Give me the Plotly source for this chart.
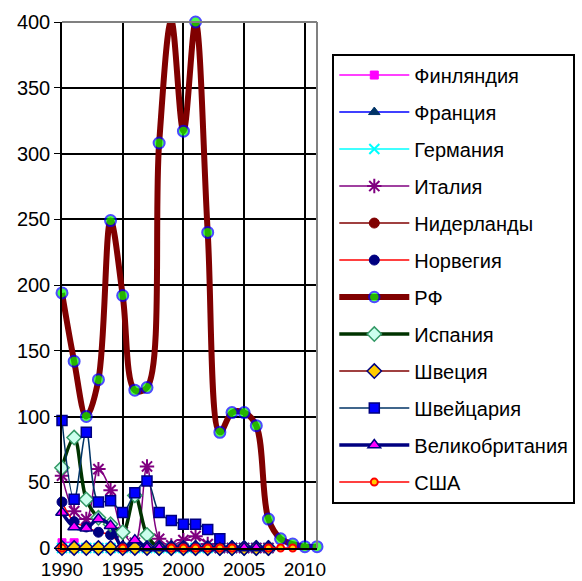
import plotly.graph_objects as go

years = list(range(1990, 2012))
N = None

finland     = [4, 4, 0, 0, 0, 0, 0, 0, 0, 0, 0, 0, 0, 0, 0, 0, 0, 0, N, N, N, N]
france      = [0, 0, 0, 0, 0, 0, 0, 0, 0, 0, 0, 0, 0, 0, 0, 0, 0, 0, N, N, N, N]
germany     = [0, 0, 0, 0, 0, 0, 0, 0, 0, 0, 0, 0, 0, 0, 0, 0, 0, 0, N, N, N, N]
italy       = [55, 28, 22, 60, 44, 12, 4, 62, 7, 2, 6, 9, 3, 0, 0, 0, 0, 0, N, N, N, N]
netherlands = [0, N, N, N, N, 0, N, N, N, 0, 0, 0, 0, 0, 0, N, N, 0, N, N, N, N]
norway      = [35, 20, 16, 12, 10, 0, N, N, N, N, N, N, N, N, N, N, N, N, N, N, N, N]
rf          = [194, 142, 100, 128, 249, 192, 120, 122, 308, 401, 317, 400, 240, 88, 103, 103, 93, 22, 7, 3, 1, 1]
spain       = [61, 84, 37, 23, 18, 12, 40, 10, 0, 0, 0, 0, 0, 0, 0, 0, 0, 0, N, N, N, N]
sweden      = [0, 0, 0, 0, 0, 0, 0, 0, 0, 0, 0, 0, 0, 0, 0, 0, 0, 0, N, N, N, N]
switzerland = [97, 37, 88, 35, 36, 27, 42, 51, 27, 21, 18, 18, 14, 7, N, N, N, N, N, N, N, N]
uk          = [27, 16, 15, 22, 17, 0, 6, 0, 0, 0, 0, 0, 0, 0, 0, 0, 0, 0, N, N, N, N]
usa         = [0, N, N, N, N, 0, N, N, N, 0, 0, 0, 0, 0, 0, N, N, 0, 0, 0, N, N]

names = ["Финляндия", "Франция", "Германия", "Италия", "Нидерланды", "Норвегия",
         "РФ", "Испания", "Швеция", "Швейцария", "Великобритания", "США"]
y_ticks = [0, 50, 100, 150, 200, 250, 300, 350, 400]
x_ticks = [1990, 1995, 2000, 2005, 2010]
Y_MAX = 400

FONT = "Arial, 'Liberation Sans', sans-serif"

styles = [
    dict(data=finland, line=dict(color="#FF00FF", width=1.5),
         marker=dict(symbol="square", size=8, color="#FF00FF", line=dict(color="#FF00FF", width=1))),
    dict(data=france, line=dict(color="#0000FF", width=1.5),
         marker=dict(symbol="triangle-up", size=10, color="#003366", line=dict(color="#003366", width=1))),
    dict(data=germany, line=dict(color="#00FFFF", width=1.5),
         marker=dict(symbol="x-thin-open", size=10, color="#00FFFF", line=dict(color="#00FFFF", width=2))),
    dict(data=italy, line=dict(color="#800080", width=1.5),
         marker=dict(symbol="asterisk-open", size=12, color="#800080", line=dict(color="#800080", width=2))),
    dict(data=netherlands, line=dict(color="#800000", width=1.5),
         marker=dict(symbol="circle", size=10, color="#800000", line=dict(color="#800000", width=1))),
    dict(data=norway, line=dict(color="#FF0000", width=1.5),
         marker=dict(symbol="circle", size=10, color="#000080", line=dict(color="#000080", width=1))),
    dict(data=rf, line=dict(color="#800000", width=6),
         marker=dict(symbol="circle", size=[0 if v > Y_MAX else 11 for v in rf], color="#00FF00",
                     line=dict(color="#0000FF", width=2))),
    dict(data=spain, line=dict(color="#003300", width=3.5),
         marker=dict(symbol="diamond", size=11, color="#CCFFEE", line=dict(color="#339966", width=1.5))),
    dict(data=sweden, line=dict(color="#800000", width=1.5),
         marker=dict(symbol="diamond", size=11, color="#FFCC00", line=dict(color="#000080", width=1.5))),
    dict(data=switzerland, line=dict(color="#003366", width=1.5),
         marker=dict(symbol="square", size=10, color="#0000FF", line=dict(color="#000080", width=1.5))),
    dict(data=uk, line=dict(color="#000080", width=3.5),
         marker=dict(symbol="triangle-up", size=11, color="#FF00FF", line=dict(color="#000080", width=1.5))),
    dict(data=usa, line=dict(color="#FF0000", width=1.5),
         marker=dict(symbol="circle", size=7, color="#FFCC00", line=dict(color="#FF0000", width=2))),
]

fig = go.Figure()
for i, (name, st) in enumerate(zip(names, styles)):
    fig.add_trace(go.Scatter(
        x=years, y=st["data"], name=name, mode="lines+markers",
        line=dict(shape="spline", smoothing=1, **st["line"]),
        marker=st["marker"], connectgaps=False, cliponaxis=False,
        legendgroup=f"g{i}",
    ))

fig.update_layout(
    width=582, height=581,
    paper_bgcolor="white", plot_bgcolor="white",
    margin=dict(l=62, r=265, t=22, b=33, autoexpand=False),
    font=dict(family=FONT, size=20, color="black"),
    showlegend=True,
    legend=dict(
        x=1.06, y=0.94, xanchor="left", yanchor="top",
        bordercolor="black", borderwidth=2, bgcolor="white",
        font=dict(family=FONT, size=20, color="black"),
        tracegroupgap=8, itemwidth=70, traceorder="grouped",
    ),
    shapes=[
        dict(type="line", xref="x domain", yref="y domain", x0=0, x1=1, y0=1, y1=1,
             line=dict(color="#808080", width=2), layer="above"),
        dict(type="line", xref="x domain", yref="y domain", x0=1, x1=1, y0=0, y1=1,
             line=dict(color="#808080", width=2), layer="above"),
    ],
)
fig.update_xaxes(range=[1990, 2011], tickvals=x_ticks, ticktext=[str(t) for t in x_ticks],
                 showgrid=True, gridcolor="black", gridwidth=1.5, zeroline=False,
                 showline=True, linecolor="black", linewidth=1.5,
                 ticks="outside", ticklen=3, tickcolor="rgba(0,0,0,0)",
                 tickfont=dict(family=FONT, size=19, color="black"))
fig.update_yaxes(range=[0, Y_MAX], tickvals=y_ticks, showgrid=True, gridcolor="black", gridwidth=1.5,
                 zeroline=False, showline=True, linecolor="black", linewidth=1.5,
                 ticks="outside", ticklen=6, tickcolor="black")

fig.write_html("out.html", config={"displayModeBar": False},
               post_script="document.body.style.margin='0';")
